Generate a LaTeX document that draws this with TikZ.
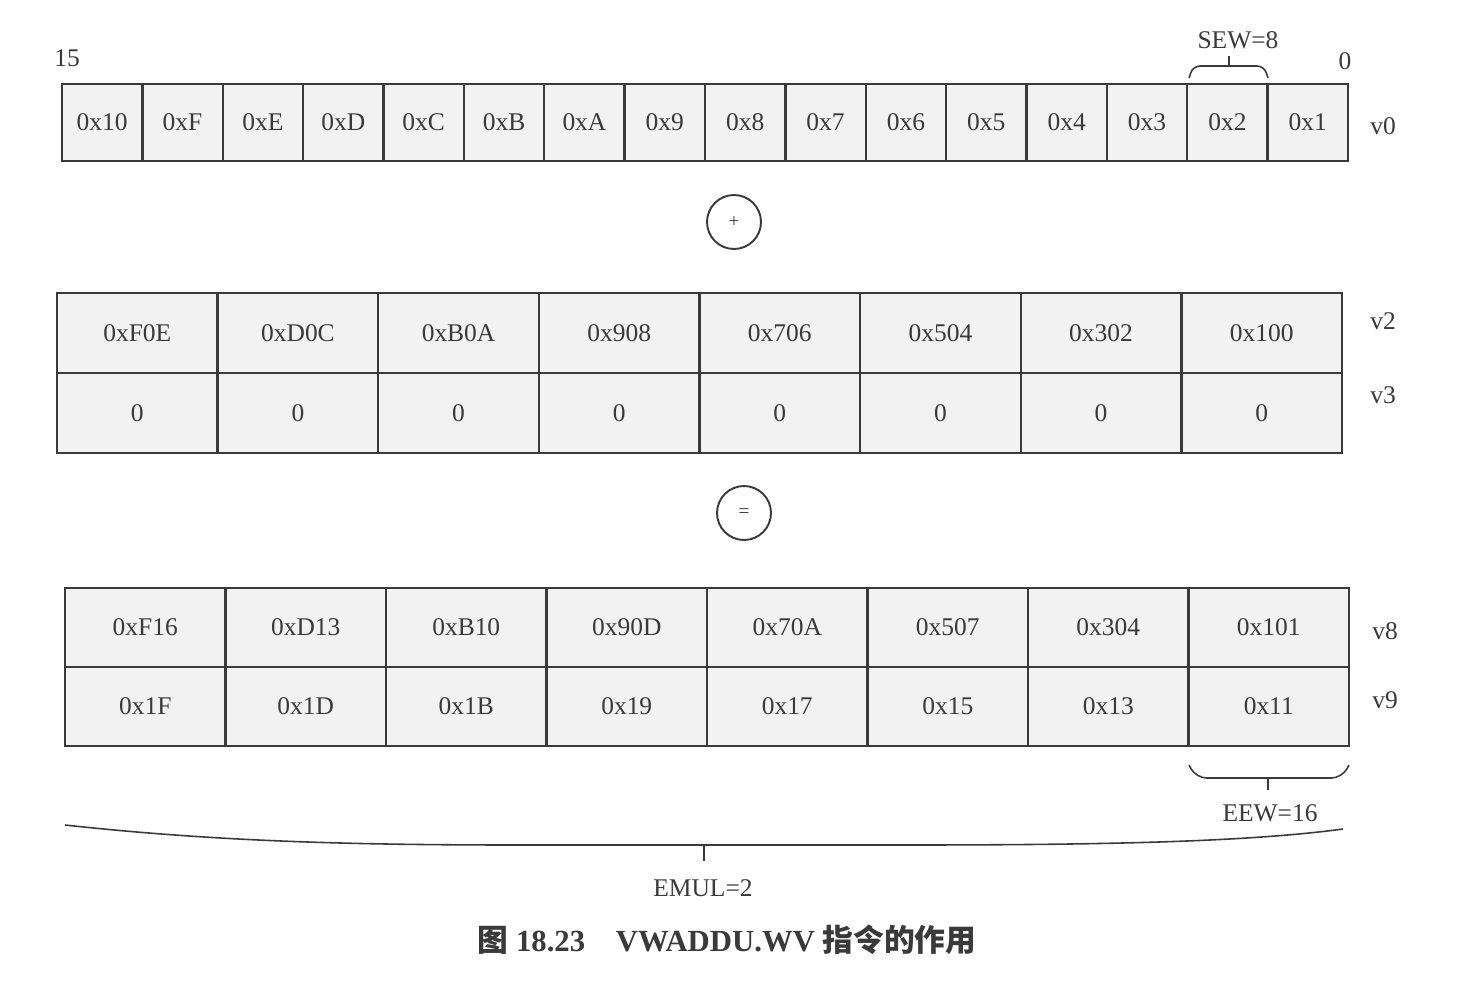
\documentclass[tikz,border=0pt]{standalone}
\usepackage{fontspec}
\setmainfont{Liberation Serif}
\newfontfamily\cjkfont{Noto Sans CJK SC}
\definecolor{ink}{HTML}{3A3A3A}
\definecolor{cellfill}{HTML}{F2F2F2}
\begin{document}
\begin{tikzpicture}[x=0.02cm, y=-0.02cm,
    cell/.style = {rectangle, draw=ink, fill=cellfill, line width=1.3pt, inner sep=0pt, text=ink},
    narrow/.style = {cell, minimum width=1.6075cm, minimum height=1.54cm},
    wide/.style = {cell, minimum width=3.21cm, minimum height=1.59cm},
    tag/.style = {text=ink},
    op/.style = {circle, draw=ink, line width=1.1pt, minimum size=1.08cm, inner sep=0pt, text=ink, font=\fontsize{11pt}{12}\selectfont},
    brace/.style = {draw=ink, line width=0.9pt},
    font=\fontsize{14.5pt}{16}\selectfont]
  \useasboundingbox (0, 0) rectangle (1463, 980);

  % Source vector v0 (SEW=8).
  \foreach \lab [count=\i from 0] in {0x10,0xF,0xE,0xD,0xC,0xB,0xA,0x9,0x8,0x7,0x6,0x5,0x4,0x3,0x2,0x1}
    \node at ({102.19+80.375*\i}, 122.5) [narrow, name=v0c\i] {\lab};
  \node at (67, 58) [tag, name=HighBit] {15};
  \node at (1345, 61) [tag, name=LowBit] {0};
  \node at (1383, 126) [tag, name=RegV0] {v0};

  % Add.
  \node at (734, 222) [op, name=Plus] {+};

  % Wide source v2/v3.
  \foreach \lab [count=\i from 0] in {0xF0E,0xD0C,0xB0A,0x908,0x706,0x504,0x302,0x100}
    \node at ({137.31+160.625*\i}, 333) [wide, name=v2c\i] {\lab};
  \foreach \i in {0,...,7}
    \node at ({137.31+160.625*\i}, 413) [wide, name=v3c\i] {0};
  \node at (1383, 321) [tag, name=RegV2] {v2};
  \node at (1383, 395) [tag, name=RegV3] {v3};

  % Result.
  \node at (744, 513) [op, name=Equals] {=};

  % Destination v8/v9 (EEW=16).
  \foreach \lab [count=\i from 0] in {0xF16,0xD13,0xB10,0x90D,0x70A,0x507,0x304,0x101}
    \node at ({145.25+160.5*\i}, 627.5) [wide, name=v8c\i] {\lab};
  \foreach \lab [count=\i from 0] in {0x1F,0x1D,0x1B,0x19,0x17,0x15,0x13,0x11}
    \node at ({145.25+160.5*\i}, 706.5) [wide, name=v9c\i] {\lab};
  \node at (1385, 631) [tag, name=RegV8] {v8};
  \node at (1385, 700) [tag, name=RegV9] {v9};

  % Width braces.
  \node at (1238, 40) [tag, name=Sew] {SEW=8};
  \draw [brace, rounded corners=4pt] (1189, 78) -- (1193, 66) -- (1264, 66) -- (1268, 78);
  \draw [brace] (1229, 66) -- (1229, 56);

  \node at (1270, 813) [tag, name=Eew] {EEW=16};
  \draw [brace, rounded corners=6pt] (1189, 765) -- (1196, 778) -- (1342, 778) -- (1349, 765);
  \draw [brace] (1268, 778) -- (1268, 790);

  \node at (703, 888) [tag, name=Emul] {EMUL=2};
  \draw [brace] (65, 825) .. controls (220, 842) and (360, 845) .. (520, 845)
                -- (900, 845) .. controls (1080, 845) and (1240, 843) .. (1343, 829);
  \draw [brace] (704, 845) -- (704, 861);

  % Caption.
  \node at (727, 940) [text=ink, name=Caption, font=\fontsize{17.5pt}{20}\selectfont\bfseries]
        {{\cjkfont 图} 18.23\quad VWADDU.WV {\cjkfont 指令的作用}};
\end{tikzpicture}
\end{document}
